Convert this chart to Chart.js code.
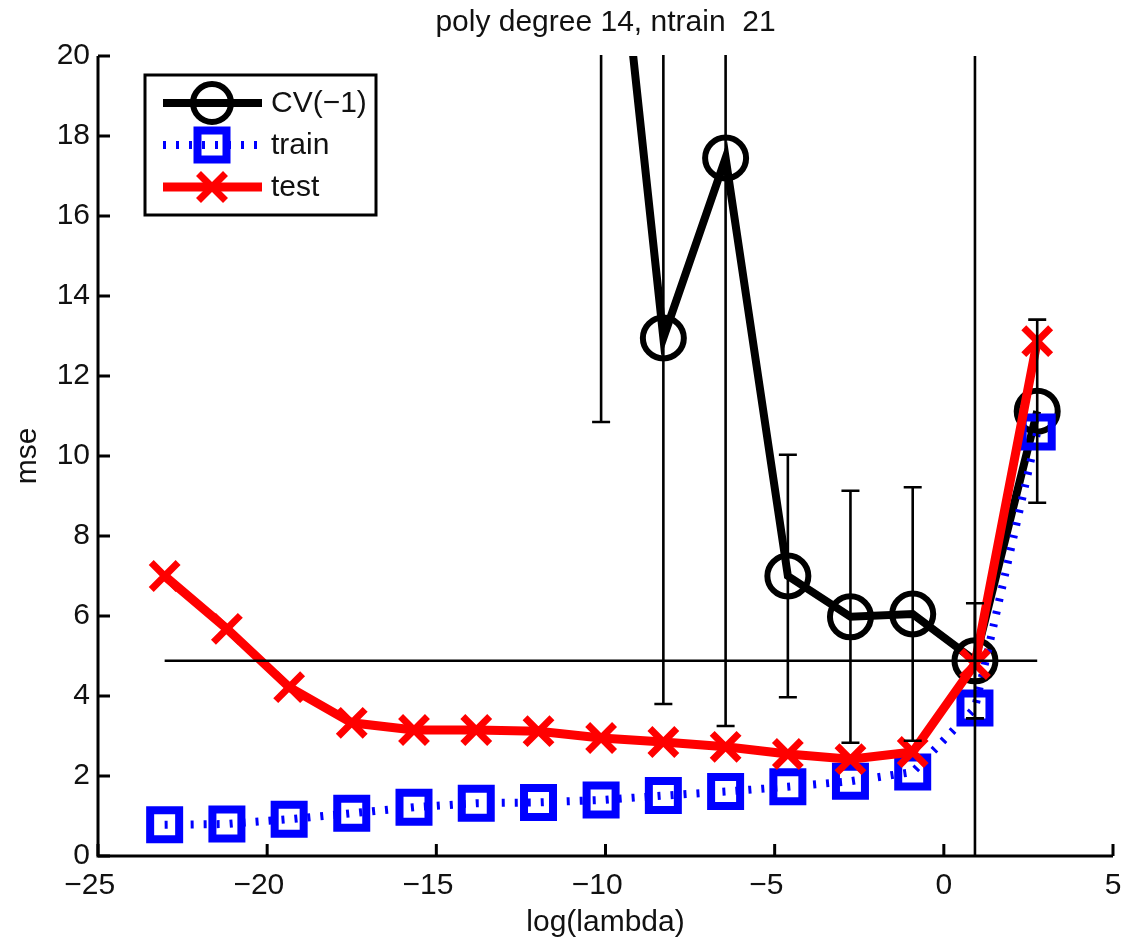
<!DOCTYPE html>
<html><head><meta charset="utf-8">
<script src="https://cdn.jsdelivr.net/npm/chart.js@4.4.0/dist/chart.umd.min.js"></script>
<style>html,body{margin:0;padding:0;background:#fff;}canvas{display:block;}</style>
</head><body>
<canvas id="c" width="1124" height="942"></canvas>
<script>
// ---- data ----
const logLambda = [-23.03, -21.19, -19.35, -17.50, -15.66, -13.82, -11.98, -10.13, -8.29, -6.45, -4.61, -2.76, -0.92, 0.92, 2.76];
const cvMean   = [95, 80, 68, 57, 46, 36, 31, 27.5, 12.95, 17.45, 7.00, 5.98, 6.05, 4.88, 11.12];
const cvErr    = [40, 35, 30, 26, 20, 14, 10, 16.65, 9.15, 14.20, 3.03, 3.15, 3.17, 1.44, 2.29];
const trainMse = [0.78, 0.80, 0.92, 1.07, 1.22, 1.32, 1.34, 1.40, 1.51, 1.61, 1.73, 1.87, 2.10, 3.70, 10.60];
const testMse  = [7.00, 5.68, 4.22, 3.33, 3.15, 3.15, 3.12, 2.95, 2.85, 2.73, 2.55, 2.42, 2.60, 4.80, 12.87];
const xTicks = [-25, -20, -15, -10, -5, 0, 5];
const yTicks = [0, 2, 4, 6, 8, 10, 12, 14, 16, 18, 20];
const seriesLabels = ['CV(\u22121)', 'train', 'test'];
const titleText = 'poly degree 14, ntrain  21';
const xTitle = 'log(lambda)';
const yTitle = 'mse';

const FONT = '"Liberation Sans", Arial, Helvetica, sans-serif';
const FS = 30;
const TXT = '#111';

function fmt(v) {
  return v < 0 ? '\u2212' + Math.abs(v) + '  ' : String(v);
}

const overlay = {
  id: 'overlay',
  afterDatasetsDraw(chart) {
    const {ctx, chartArea: a, scales: {x, y}} = chart;
    ctx.save();
    ctx.beginPath();
    ctx.rect(a.left, a.top - 1, a.right - a.left, a.bottom - a.top + 1);
    ctx.clip();
    ctx.strokeStyle = '#000';
    ctx.lineWidth = 2.6;
    ctx.lineCap = 'butt';
    for (let i = 0; i < logLambda.length; i++) {
      const px = x.getPixelForValue(logLambda[i]);
      const lo = y.getPixelForValue(cvMean[i] - cvErr[i]);
      const hi = y.getPixelForValue(cvMean[i] + cvErr[i]);
      ctx.beginPath();
      ctx.moveTo(px, lo); ctx.lineTo(px, hi);
      ctx.moveTo(px - 9, lo); ctx.lineTo(px + 9, lo);
      ctx.moveTo(px - 9, hi); ctx.lineTo(px + 9, hi);
      ctx.stroke();
    }
    let iMin = 0;
    for (let i = 1; i < cvMean.length; i++) if (cvMean[i] < cvMean[iMin]) iMin = i;
    const yMin = y.getPixelForValue(cvMean[iMin]);
    ctx.beginPath();
    ctx.moveTo(x.getPixelForValue(logLambda[0]), yMin);
    ctx.lineTo(x.getPixelForValue(logLambda[logLambda.length - 1]), yMin);
    ctx.stroke();
    const xMin = x.getPixelForValue(logLambda[iMin]);
    ctx.beginPath();
    ctx.moveTo(xMin, a.top); ctx.lineTo(xMin, a.bottom);
    ctx.stroke();
    ctx.restore();
  },
  afterDraw(chart) {
    const {ctx, chartArea: a, scales: {x, y}} = chart;
    ctx.save();
    // axes
    ctx.strokeStyle = '#000';
    ctx.lineWidth = 3;
    ctx.beginPath();
    ctx.moveTo(a.left, a.top); ctx.lineTo(a.left, a.bottom); ctx.lineTo(a.right, a.bottom);
    ctx.stroke();
    // inward ticks
    ctx.beginPath();
    xTicks.forEach(v => { const p = x.getPixelForValue(v); ctx.moveTo(p, a.bottom); ctx.lineTo(p, a.bottom - 12); });
    yTicks.forEach(v => { const p = y.getPixelForValue(v); ctx.moveTo(a.left, p); ctx.lineTo(a.left + 12, p); });
    ctx.stroke();

    // titles
    ctx.fillStyle = TXT;
    ctx.font = FS + 'px ' + FONT;
    ctx.textAlign = 'center';
    ctx.textBaseline = 'alphabetic';
    const cx = (a.left + a.right) / 2;
    ctx.fillText(titleText, cx, 31);
    ctx.fillText(xTitle, cx, 931);
    ctx.save();
    ctx.translate(36, (a.top + a.bottom) / 2);
    ctx.rotate(-Math.PI / 2);
    ctx.fillText(yTitle, 0, 0);
    ctx.restore();

    // legend
    const L = 145, T = 75, W = 231, H = 140;
    ctx.fillStyle = '#fff';
    ctx.fillRect(L, T, W, H);
    ctx.strokeStyle = '#000';
    ctx.lineWidth = 3;
    ctx.strokeRect(L, T, W, H);
    const rows = [103, 145, 187];
    const x0 = 163, x1 = 262, mx = 212;
    // CV
    ctx.strokeStyle = '#000'; ctx.lineWidth = 8;
    ctx.beginPath(); ctx.moveTo(x0, rows[0]); ctx.lineTo(x1, rows[0]); ctx.stroke();
    ctx.lineWidth = 6;
    ctx.beginPath(); ctx.arc(mx, rows[0], 19, 0, Math.PI * 2); ctx.stroke();
    // train
    ctx.strokeStyle = '#0000ff'; ctx.lineWidth = 8;
    ctx.setLineDash([3, 10]);
    ctx.beginPath(); ctx.moveTo(x0, rows[1]); ctx.lineTo(x1, rows[1]); ctx.stroke();
    ctx.setLineDash([]);
    ctx.lineWidth = 8;
    ctx.strokeRect(mx - 14.5, rows[1] - 14.5, 29, 29);
    // test
    ctx.strokeStyle = '#ff0000'; ctx.lineWidth = 9;
    ctx.beginPath(); ctx.moveTo(x0, rows[2]); ctx.lineTo(x1, rows[2]); ctx.stroke();
    ctx.lineWidth = 7;
    const d = 13.5;
    ctx.beginPath();
    ctx.moveTo(mx - d, rows[2] - d); ctx.lineTo(mx + d, rows[2] + d);
    ctx.moveTo(mx - d, rows[2] + d); ctx.lineTo(mx + d, rows[2] - d);
    ctx.stroke();
    ctx.fillStyle = TXT;
    ctx.textAlign = 'left';
    ctx.textBaseline = 'middle';
    seriesLabels.forEach((s, i) => ctx.fillText(s, 271, rows[i] + 1));
    ctx.restore();
  }
};

new Chart(document.getElementById('c'), {
  type: 'line',
  data: {
    datasets: [
      {
        label: seriesLabels[0],
        data: logLambda.map((v, i) => ({x: v, y: cvMean[i]})),
        borderColor: '#000', borderWidth: 8, tension: 0,
        pointStyle: 'circle', pointRadius: 20.5, pointBorderWidth: 6,
        pointBorderColor: '#000', pointBackgroundColor: 'rgba(0,0,0,0)',
        clip: 0, order: 3
      },
      {
        label: seriesLabels[1],
        data: logLambda.map((v, i) => ({x: v, y: trainMse[i]})),
        borderColor: '#0000ff', borderWidth: 8, borderDash: [3, 10], tension: 0,
        pointStyle: 'rect', pointRadius: 20.5, pointBorderWidth: 8,
        pointBorderColor: '#0000ff', pointBackgroundColor: 'rgba(0,0,0,0)',
        order: 2
      },
      {
        label: seriesLabels[2],
        data: logLambda.map((v, i) => ({x: v, y: testMse[i]})),
        borderColor: '#ff0000', borderWidth: 9, tension: 0,
        pointStyle: 'crossRot', pointRadius: 19, pointBorderWidth: 7,
        pointBorderColor: '#ff0000', pointBackgroundColor: 'rgba(0,0,0,0)',
        order: 1
      }
    ]
  },
  options: {
    responsive: false,
    animation: false,
    devicePixelRatio: 1,
    layout: {autoPadding: false, padding: {left: 0, right: 11, top: 56, bottom: 0}},
    plugins: {legend: {display: false}, title: {display: false}, tooltip: {enabled: false}},
    events: [],
    scales: {
      x: {
        type: 'linear', min: -25, max: 5,
        afterBuildTicks: s => { s.ticks = xTicks.map(v => ({value: v})); },
        afterFit: s => { s.height = 86; s.paddingLeft = 0; s.paddingRight = 0; },
        grid: {display: false, drawTicks: false},
        border: {display: false},
        ticks: {
          callback: v => fmt(v), padding: 12, maxRotation: 0, autoSkip: false,
          color: TXT, font: {family: FONT, size: FS}
        }
      },
      y: {
        type: 'linear', min: 0, max: 20,
        afterBuildTicks: s => { s.ticks = yTicks.map(v => ({value: v})); },
        afterFit: s => { s.width = 98; s.paddingTop = 0; s.paddingBottom = 0; },
        grid: {display: false, drawTicks: false},
        border: {display: false},
        ticks: {
          callback: v => fmt(v), padding: 8, autoSkip: false,
          color: TXT, font: {family: FONT, size: FS}
        }
      }
    }
  },
  plugins: [overlay]
});
</script>
</body></html>
